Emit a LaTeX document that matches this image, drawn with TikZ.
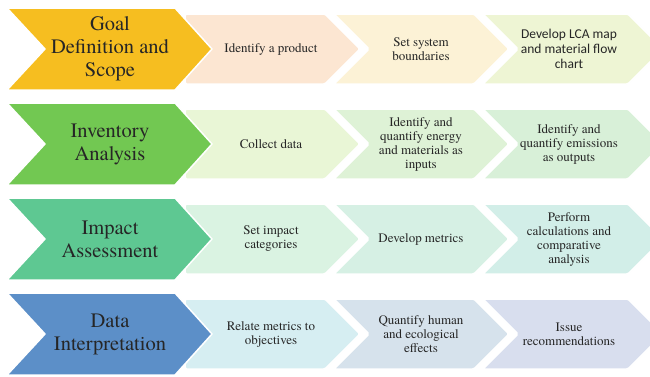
\documentclass[tikz,border=0pt]{standalone}
\usepackage{fontspec}
\setmainfont{TeX Gyre Termes}
\newfontfamily\timesfont{TeX Gyre Termes}
\newfontfamily\calibrifont{Carlito}
\usepackage{xcolor}
\usepackage{tikz}

\definecolor{goldbig}{RGB}{246,190,32}
\definecolor{goldA}{RGB}{252,230,210}
\definecolor{goldB}{RGB}{252,242,214}
\definecolor{goldC}{RGB}{238,245,212}
\definecolor{greenbig}{RGB}{114,200,82}
\definecolor{greenA}{RGB}{233,246,214}
\definecolor{greenB}{RGB}{222,242,214}
\definecolor{greenC}{RGB}{216,240,216}
\definecolor{tealbig}{RGB}{94,200,146}
\definecolor{tealA}{RGB}{218,243,226}
\definecolor{tealB}{RGB}{214,240,228}
\definecolor{tealC}{RGB}{210,238,232}
\definecolor{bluebig}{RGB}{92,143,200}
\definecolor{blueA}{RGB}{214,238,242}
\definecolor{blueB}{RGB}{214,226,236}
\definecolor{blueC}{RGB}{216,222,238}

\tikzset{
  bigchev/.style={draw=white, line width=1.5pt, line join=round},
  smallchev/.style={draw=white, line width=1.5pt, rounded corners=1.5pt},
  bigtext/.style={align=center, font=\timesfont\fontsize{20.5}{23}\selectfont, text=black!85},
  smalltext/.style={align=center, font=\timesfont\fontsize{13}{14}\selectfont, text=black!85}
}

\begin{document}
\begin{tikzpicture}[x=1pt,y=-1pt]
\useasboundingbox (0,0) rectangle (650,376);
\clip (0,0) rectangle (650,376);

% Goal definition and scope
\begin{scope}[shift={(0,0)}]
\fill[smallchev,fill=goldA] (185,14) -- (325,14) -- (360,49) -- (325,84) -- (185,84) -- cycle;
\fill[smallchev,fill=goldB] (334,14) -- (474,14) -- (509,49) -- (474,84) -- (334,84) -- (369,49) -- cycle;
\fill[smallchev,fill=goldC] (483,14) -- (628,14) -- (663,49) -- (628,84) -- (483,84) -- (518,49) -- cycle;
\fill[bigchev,fill=goldbig] (7,8) -- (175,8) -- (212,49) -- (175,90) -- (7,90) -- (45,49) -- cycle;
\node[bigtext] (goal) at (110,49) {Goal\\Definition and\\Scope};
\node[smalltext] (goalA) at (271,49) {Identify a product};
\node[smalltext] (goalB) at (421,49) {Set system\\boundaries};
\node[smalltext,font=\calibrifont\fontsize{13.5}{15}\selectfont] (goalC) at (569,49) {Develop LCA map\\and material flow\\chart};
\end{scope}

% Inventory analysis
\begin{scope}[shift={(0,95)}]
\fill[smallchev,fill=greenA] (185,14) -- (325,14) -- (360,49) -- (325,84) -- (185,84) -- cycle;
\fill[smallchev,fill=greenB] (334,14) -- (474,14) -- (509,49) -- (474,84) -- (334,84) -- (369,49) -- cycle;
\fill[smallchev,fill=greenC] (483,14) -- (628,14) -- (663,49) -- (628,84) -- (483,84) -- (518,49) -- cycle;
\fill[bigchev,fill=greenbig] (7,8) -- (175,8) -- (212,49) -- (175,90) -- (7,90) -- (45,49) -- cycle;
\node[bigtext] (inventory) at (110,49) {Inventory\\Analysis};
\node[smalltext] (inventoryA) at (271,49) {Collect data};
\node[smalltext] (inventoryB) at (421,49) {Identify and\\quantify energy\\and materials as\\inputs};
\node[smalltext] (inventoryC) at (569,49) {Identify and\\quantify emissions\\as outputs};
\end{scope}

% Impact assessment
\begin{scope}[shift={(0,190)}]
\fill[smallchev,fill=tealA] (185,14) -- (325,14) -- (360,49) -- (325,84) -- (185,84) -- cycle;
\fill[smallchev,fill=tealB] (334,14) -- (474,14) -- (509,49) -- (474,84) -- (334,84) -- (369,49) -- cycle;
\fill[smallchev,fill=tealC] (483,14) -- (628,14) -- (663,49) -- (628,84) -- (483,84) -- (518,49) -- cycle;
\fill[bigchev,fill=tealbig] (7,8) -- (175,8) -- (212,49) -- (175,90) -- (7,90) -- (45,49) -- cycle;
\node[bigtext] (impact) at (110,49) {Impact\\Assessment};
\node[smalltext] (impactA) at (271,49) {Set impact\\categories};
\node[smalltext] (impactB) at (421,49) {Develop metrics};
\node[smalltext] (impactC) at (569,49) {Perform\\calculations and\\comparative\\analysis};
\end{scope}

% Data interpretation
\begin{scope}[shift={(0,285)}]
\fill[smallchev,fill=blueA] (185,14) -- (325,14) -- (360,49) -- (325,84) -- (185,84) -- cycle;
\fill[smallchev,fill=blueB] (334,14) -- (474,14) -- (509,49) -- (474,84) -- (334,84) -- (369,49) -- cycle;
\fill[smallchev,fill=blueC] (483,14) -- (628,14) -- (663,49) -- (628,84) -- (483,84) -- (518,49) -- cycle;
\fill[bigchev,fill=bluebig] (7,8) -- (175,8) -- (212,49) -- (175,90) -- (7,90) -- (45,49) -- cycle;
\node[bigtext] (data) at (110,49) {Data\\Interpretation};
\node[smalltext] (dataA) at (271,49) {Relate metrics to\\objectives};
\node[smalltext] (dataB) at (421,49) {Quantify human\\and ecological\\effects};
\node[smalltext] (dataC) at (569,49) {Issue\\recommendations};
\end{scope}
\end{tikzpicture}
\end{document}
